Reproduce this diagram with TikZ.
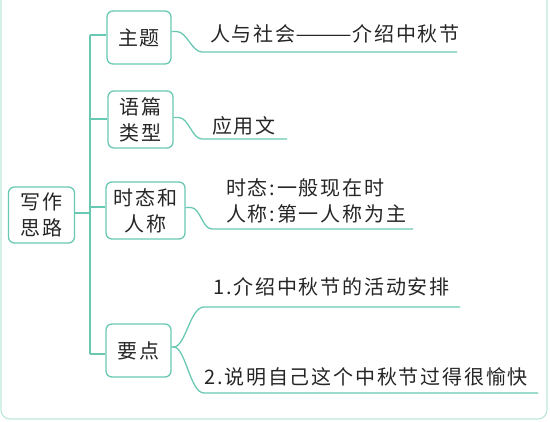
\documentclass[tikz,border=0pt]{standalone}
\usepackage{fontspec}
\newfontfamily\cjk[LetterSpace=9]{Noto Sans CJK SC}
\definecolor{mint}{RGB}{105,200,178}
\definecolor{framec}{RGB}{190,232,221}
\tikzset{
  box/.style={draw=mint, line width=1.3pt, rounded corners=6pt, inner sep=0pt, align=center, font=\cjk\fontsize{20}{26}\selectfont, text=black!85},
  txt/.style={anchor=west, inner sep=0pt, font=\cjk\fontsize{20}{26}\selectfont, text=black!85},
  link/.style={draw=mint, line width=1.3pt},
}
\begin{document}
\begin{tikzpicture}[x=1pt,y=-1pt]
\useasboundingbox (0,0) rectangle (550,422);
\begin{scope}
\clip (0,0) rectangle (550,422);
\draw[framec, line width=1.2pt, rounded corners=9pt] (1,-20) rectangle (547,419);
\end{scope}

% boxes
\node[box, minimum width=66pt, minimum height=56pt] (root) at (41.5,215) {写作\\思路};
\node[box, minimum width=64pt, minimum height=53pt] (zt) at (139,37.5) {主题};
\node[box, minimum width=65pt, minimum height=57pt] (yp) at (140.5,119.5) {语篇\\类型};
\node[box, minimum width=79pt, minimum height=57pt] (tr) at (145.5,210.5) {时态和\\人称};
\node[box, minimum width=65pt, minimum height=53pt] (yd) at (138.5,350.5) {要点};

% trunk
\coordinate (ttop) at (90,35);
\coordinate (tbot) at (90,354);
\coordinate (troot) at (90,213);
\draw[link] (ttop) -- (tbot);
\draw[link] (root.east |- troot) -- (troot);
\draw[link] (ttop) -- (zt.west |- ttop);
\draw[link] (90,119) -- (yp.west |- 0,119);
\draw[link] (90,207) -- (tr.west |- 0,207);
\draw[link] (tbot) -- (yd.west |- tbot);

% texts
\node[txt] (t1) at (210,34) {人与社会\scalebox{1.7}[1]{——}介绍中秋节};
\node[txt] (t2) at (212,125.5) {应用文};
\node[txt] (t3a) at (226,188) {时态:一般现在时};
\node[txt] (t3b) at (226,213.5) {人称:第一人称为主};
\node[txt] (t4a) at (213,287) {1.介绍中秋节的活动安排};
\node[txt] (t4b) at (204,377) {2.说明自己这个中秋节过得很愉快};

% underlines
\coordinate (u1a) at (202,52);  \coordinate (u1b) at (457,52);
\coordinate (u2a) at (202,139); \coordinate (u2b) at (287,139);
\coordinate (u3a) at (212,229); \coordinate (u3b) at (413,229);
\coordinate (u4a) at (204,307); \coordinate (u4b) at (460,307);
\coordinate (u5a) at (204,393); \coordinate (u5b) at (538,393);

\draw[link] ([yshift=6pt]zt.east) -- ++(5,0) .. controls +(10,0) and +(-10,0) .. (u1a) -- (u1b);
\draw[link] ([yshift=2pt]yp.east) -- ++(5,0) .. controls +(10,0) and +(-10,0) .. (u2a) -- (u2b);
\draw[link] ([yshift=3pt]tr.east) -- ++(5,0) .. controls +(10,0) and +(-10,0) .. (u3a) -- (u3b);
\coordinate (j) at ([yshift=3.5pt]yd.east);
\draw[link] (j) -- ++(2,0) .. controls +(12,0) and +(-14,0) .. (u4a) -- (u4b);
\draw[link] (j) -- ++(2,0) .. controls +(12,0) and +(-14,0) .. (u5a) -- (u5b);
\end{tikzpicture}
\end{document}
